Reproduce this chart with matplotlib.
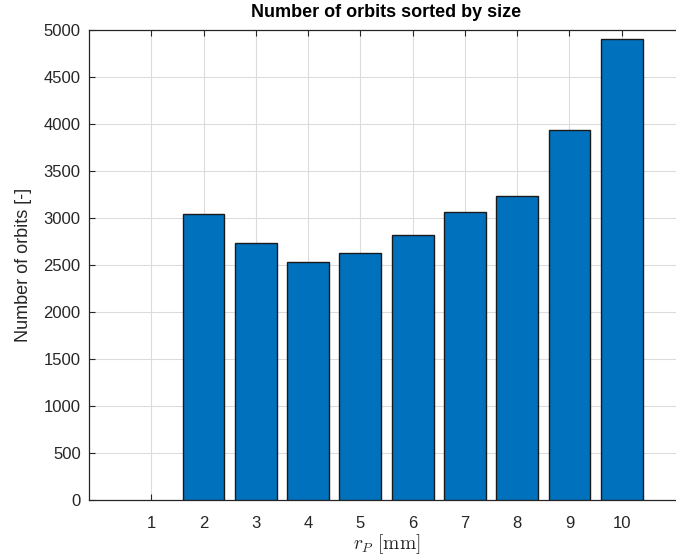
import matplotlib
matplotlib.use("Agg")
import matplotlib.pyplot as plt
import numpy as np

# Orbit counts per orbit radius class
radius_mm = [1, 2, 3, 4, 5, 6, 7, 8, 9, 10]
orbit_counts = [0, 3034, 2729, 2530, 2626, 2812, 3055, 3232, 3931, 4896]
y_ticks = list(range(0, 5001, 500))

plt.rcParams['font.family'] = ['Liberation Sans', 'DejaVu Sans']
plt.rcParams['mathtext.fontset'] = 'cm'

text_col = '#262626'
bar_col = '#0072BD'

fig = plt.figure(figsize=(6.76, 5.58), dpi=100)
ax = fig.add_axes([89 / 676, 1 - 499.5 / 558, 595 / 676, 469.8 / 558])

# empty classes get no outline so nothing shows on the baseline
edge_widths = [1.0 if c > 0 else 0.0 for c in orbit_counts]
ax.bar(radius_mm, orbit_counts, width=0.8, color=bar_col,
       edgecolor='#1a1a1a', linewidth=edge_widths, zorder=3)

ax.set_xlim(-0.19, 11.19)
ax.set_ylim(0, 5000)
ax.set_xticks(radius_mm)
ax.set_yticks(y_ticks)

ax.grid(True, color='#dcdcdc', linewidth=0.8, zorder=0)
ax.set_axisbelow(True)

for side in ('left', 'bottom', 'top', 'right'):
    ax.spines[side].set_color(text_col)
    ax.spines[side].set_linewidth(0.9)

ax.tick_params(direction='in', length=4, width=0.8, colors=text_col,
               labelsize=12, top=True, right=True)
ax.tick_params(axis='x', pad=12)
ax.tick_params(axis='y', pad=6)
for lbl in ax.get_xticklabels() + ax.get_yticklabels():
    lbl.set_color(text_col)

ax.set_title('Number of orbits sorted by size', fontsize=13,
             fontweight='bold', color='black', pad=9)
ax.set_ylabel('Number of orbits [-]', fontsize=13, color=text_col, labelpad=8)
ax.set_xlabel(r'$r_P\ \mathrm{[mm]}$', fontsize=14, color=text_col, labelpad=1)

fig.savefig('out.png', dpi=100)
